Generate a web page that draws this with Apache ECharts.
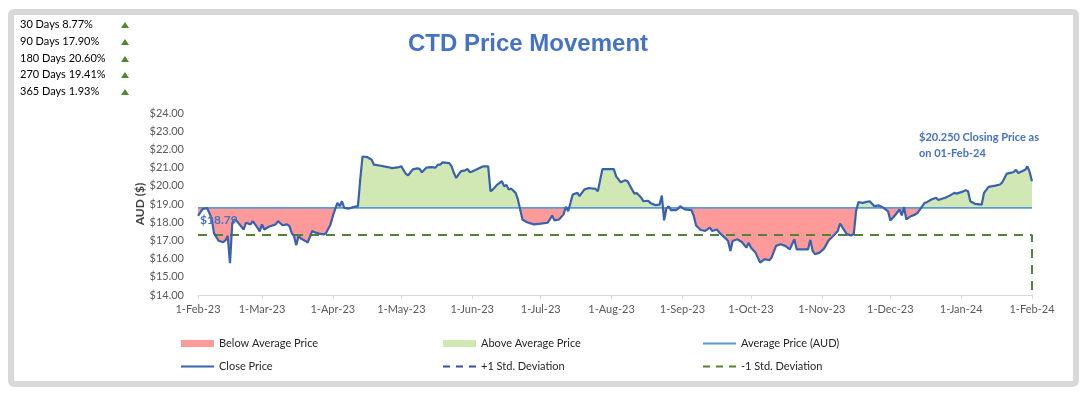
<!DOCTYPE html>
<html>
<head>
    <meta charset="utf-8">
    <title>CTD Price Movement</title>
    <script src="https://cdn.jsdelivr.net/npm/echarts@6/dist/echarts.min.js"></script>
    <style>body { margin: 0; background: #fff; }</style>
</head>
<body>
    <div id="main" style="width:1090px;height:396px;"></div>
    <script type="text/javascript">

        // days since 1-Feb-23 and the close price on that day
        var dayOffsets = [0, 2, 4, 6, 7, 9, 11, 12, 13, 14, 15, 16, 17, 20, 21, 23, 24, 26, 27, 28, 29, 31, 34, 35, 37, 39, 40, 41, 42, 43, 44, 45, 47, 48, 50, 51, 53, 55, 56, 58, 59, 60, 61, 62, 63, 64, 66, 68, 70, 71, 72, 74, 76, 77, 80, 83, 85, 88, 89, 91, 92, 94, 96, 97, 98, 100, 102, 104, 105, 106, 107, 110, 111, 112, 113, 115, 117, 118, 119, 120, 123, 125, 127, 128, 129, 131, 133, 134, 135, 136, 137, 139, 140, 141, 142, 144, 147, 150, 153, 154, 155, 156, 158, 160, 161, 162, 163, 164, 166, 167, 169, 171, 174, 175, 177, 180, 182, 183, 185, 187, 188, 190, 191, 192, 194, 195, 197, 198, 200, 202, 203, 204, 205, 206, 207, 209, 210, 211, 213, 216, 217, 218, 220, 222, 224, 225, 227, 229, 231, 232, 233, 234, 236, 238, 240, 241, 242, 244, 246, 248, 250, 251, 253, 255, 257, 259, 261, 262, 265, 267, 268, 269, 270, 272, 274, 276, 278, 280, 281, 283, 284, 286, 287, 288, 289, 291, 292, 294, 296, 298, 300, 302, 303, 305, 307, 308, 309, 310, 312, 314, 315, 316, 318, 319, 321, 323, 324, 327, 329, 331, 332, 334, 336, 337, 338, 340, 343, 344, 346, 349, 351, 352, 354, 356, 357, 358, 359, 362, 363, 364, 365];
        var closePrices = [18.35, 18.72, 18.78, 18.20, 17.40, 16.98, 16.90, 17.00, 17.25, 15.75, 17.95, 18.15, 18.06, 17.60, 17.97, 17.88, 18.06, 17.70, 17.50, 17.88, 17.60, 17.75, 17.88, 18.06, 17.83, 17.88, 17.79, 17.42, 17.24, 16.73, 17.24, 17.10, 16.97, 16.88, 17.52, 17.45, 17.37, 17.33, 17.39, 17.88, 18.33, 18.70, 19.06, 18.88, 19.15, 18.79, 18.75, 18.83, 18.88, 20.34, 21.61, 21.58, 21.43, 21.16, 21.10, 21.03, 20.97, 21.03, 21.07, 20.65, 20.58, 20.90, 20.96, 20.93, 20.74, 21.00, 21.03, 21.00, 21.16, 21.16, 21.29, 21.25, 21.07, 20.70, 20.43, 20.79, 20.85, 20.92, 20.74, 20.79, 20.97, 21.07, 21.07, 19.70, 19.79, 20.07, 20.25, 19.97, 20.05, 19.79, 19.85, 19.61, 19.25, 18.70, 18.15, 18.00, 17.88, 17.92, 17.97, 18.15, 18.37, 18.10, 18.15, 18.43, 18.85, 18.60, 19.05, 19.52, 19.61, 19.43, 19.79, 19.88, 19.83, 19.70, 20.92, 20.92, 20.92, 20.52, 20.19, 20.30, 20.25, 19.79, 19.57, 19.60, 19.34, 19.15, 19.18, 19.06, 18.94, 18.97, 19.46, 18.10, 18.75, 18.88, 18.66, 18.66, 18.72, 18.88, 18.70, 18.66, 18.33, 17.82, 17.57, 17.52, 17.70, 17.52, 17.60, 17.33, 17.10, 16.97, 16.42, 16.97, 17.06, 16.91, 16.60, 16.88, 16.60, 16.33, 15.78, 15.97, 15.91, 16.05, 16.70, 16.79, 16.70, 16.51, 17.06, 16.51, 16.51, 16.51, 17.03, 16.42, 16.24, 16.33, 16.55, 17.00, 17.24, 17.52, 17.93, 17.52, 17.33, 17.28, 17.35, 18.60, 19.10, 19.06, 19.10, 19.15, 18.88, 18.92, 18.79, 18.60, 18.10, 18.37, 18.70, 18.37, 18.83, 18.15, 18.33, 18.43, 18.52, 18.70, 19.06, 19.10, 19.25, 19.34, 19.22, 19.34, 19.46, 19.61, 19.57, 19.65, 19.76, 19.70, 19.15, 19.01, 18.97, 19.61, 19.94, 20.01, 20.07, 20.19, 20.67, 20.72, 20.76, 20.88, 20.70, 20.88, 21.07, 20.75, 20.25];

        var averagePrice = 18.79;
        var stdDeviation = 1.49;
        var closingPrice = '20.250';
        var closingDate = '01-Feb-24';

        var statPeriods = ['30 Days', '90 Days', '180 Days', '270 Days', '365 Days'];
        var statChanges = [8.77, 17.90, 20.60, 19.41, 1.93];

        var monthNames = ['Jan', 'Feb', 'Mar', 'Apr', 'May', 'Jun', 'Jul', 'Aug', 'Sep', 'Oct', 'Nov', 'Dec'];

        var FONT = 'Lato';
        var DAY = 86400000;
        var startDate = new Date(2023, 1, 1);
        var lastDay = 365;

        var myChart = echarts.init(document.getElementById('main'));

        var closeData = dayOffsets.map(function (d, i) { return [d, closePrices[i]]; });

        // month starts as day offsets, used for ticks and labels
        var monthTicks = [];
        for (var m = 0; m <= 12; m++) {
            monthTicks.push(Math.round((new Date(2023, 1 + m, 1) - startDate) / DAY));
        }

        // top-left performance list
        var statRowsY = [24, 41, 58, 74, 91];
        var graphics = [{
            type: 'rect', z: -10, silent: true,
            shape: { x: 11, y: 12, width: 1065, height: 372, r: 3 },
            style: { fill: '#fff', stroke: '#d9d9d9', lineWidth: 6 }
        }];
        statPeriods.forEach(function (p, i) {
            graphics.push({
                type: 'text', x: 20, y: statRowsY[i],
                style: { text: p + ' ' + statChanges[i].toFixed(2) + '%', font: '11px ' + FONT, fill: '#000', verticalAlign: 'middle' }
            });
            graphics.push({
                type: 'polygon',
                shape: { points: [[121, statRowsY[i] + 4], [129, statRowsY[i] + 4], [125, statRowsY[i] - 2]] },
                style: { fill: statChanges[i] >= 0 ? '#4e8a2e' : '#c00000' }
            });
        });
        graphics.push({
            type: 'text', x: 200, y: 220, z: 100,
            style: { text: '$' + averagePrice.toFixed(2), font: 'bold 12px ' + FONT, fill: '#4472c4', verticalAlign: 'middle' }
        });
        graphics.push({
            type: 'text', x: 919, y: 130, z: 100,
            style: { text: '$' + closingPrice + ' Closing Price as\non ' + closingDate, font: 'bold 11px ' + FONT, fill: '#4472c4', lineHeight: 15.5 }
        });

        var legendText = { fontFamily: FONT, fontSize: 11, color: '#262626' };
        var noMarker = { opacity: 0 };
        function legendCol(left, items) {
            return {
                left: left, top: 333, orient: 'vertical', itemGap: 12,
                itemWidth: 33, itemHeight: 7, selectedMode: false,
                textStyle: legendText, data: items
            };
        }

        option = {
            animation: false,
            title: {
                text: 'CTD Price Movement', left: 528, top: 32, padding: 0, textAlign: 'center',
                textStyle: { fontFamily: 'Liberation Sans', fontSize: 24, fontWeight: 'bold', color: '#4472c4' }
            },
            graphic: graphics,
            legend: [
                legendCol(175, [
                    { name: 'Below Average Price', icon: 'rect' },
                    { name: 'Close Price', itemStyle: noMarker }
                ]),
                legendCol(437, [
                    { name: 'Above Average Price', icon: 'rect' },
                    { name: '+1 Std. Deviation', itemStyle: noMarker, lineStyle: { type: [7, 6] } }
                ]),
                legendCol(697, [
                    { name: 'Average Price (AUD)', itemStyle: noMarker },
                    { name: '-1 Std. Deviation', itemStyle: noMarker, lineStyle: { type: [7, 6] } }
                ])
            ],
            grid: { left: 198, right: 58, top: 113, bottom: 101 },
            xAxis: {
                type: 'value', min: 0, max: lastDay,
                axisLine: { lineStyle: { color: '#d9d9d9', width: 1 } },
                axisTick: { show: true, customValues: monthTicks, length: 4, lineStyle: { color: '#d9d9d9' } },
                axisLabel: {
                    customValues: monthTicks, color: '#595959', fontFamily: FONT, fontSize: 11, margin: 9,
                    formatter: function (v) {
                        var d = new Date(startDate.getTime() + Math.round(v) * DAY + DAY / 2);
                        return d.getDate() + '-' + monthNames[d.getMonth()] + '-' + String(d.getFullYear()).slice(2);
                    }
                },
                splitLine: { show: false }
            },
            yAxis: {
                type: 'value', min: 14, max: 24, interval: 1,
                name: 'AUD ($)', nameLocation: 'middle', nameGap: 52, nameMoveOverlap: false,
                nameTextStyle: { fontFamily: FONT, fontSize: 12, fontWeight: 'bold', color: '#404040' },
                axisLine: { show: false }, axisTick: { show: false },
                axisLabel: { color: '#595959', fontFamily: FONT, fontSize: 11, margin: 14, formatter: function (v) { return '$' + v.toFixed(2); } },
                splitLine: { show: false }
            },
            visualMap: {
                type: 'piecewise', show: false, seriesIndex: 0, dimension: 1,
                pieces: [{ gte: 0, lt: averagePrice, color: '#ff9a9a' }, { gte: averagePrice, lte: 100, color: '#d1e8b4' }],
                outOfRange: { color: '#d1e8b4' }
            },
            series: [
                {
                    name: 'fill', type: 'line', data: closeData, symbol: 'none', silent: true, z: 1,
                    lineStyle: { width: 0 }, areaStyle: { origin: averagePrice, opacity: 1 }
                },
                { name: 'Below Average Price', type: 'bar', data: [], itemStyle: { color: '#ff9a9a' } },
                { name: 'Above Average Price', type: 'bar', data: [], itemStyle: { color: '#d1e8b4' } },
                {
                    name: 'Average Price (AUD)', type: 'line', symbol: 'none', z: 3,
                    data: [[0, averagePrice], [lastDay, averagePrice]],
                    lineStyle: { color: '#5b9bd5', width: 1.8 }, itemStyle: { color: '#5b9bd5' }
                },
                {
                    name: 'Close Price', type: 'line', symbol: 'none', z: 4, data: closeData,
                    lineStyle: { color: '#3862b0', width: 2.2 }, itemStyle: { color: '#3862b0' }
                },
                {
                    name: '+1 Std. Deviation', type: 'line', symbol: 'none', data: [],
                    lineStyle: { color: '#2f5597', width: 2, type: [9, 7] }, itemStyle: { color: '#2f5597' }
                },
                {
                    name: '-1 Std. Deviation', type: 'line', symbol: 'none', z: 3,
                    data: [[0, averagePrice - stdDeviation], [lastDay, averagePrice - stdDeviation], [lastDay, 14]],
                    lineStyle: { color: '#548235', width: 2, type: [9, 7] }, itemStyle: { color: '#548235' }
                }
            ]
        };

        myChart.setOption(option);
    </script>
</body>
</html>
